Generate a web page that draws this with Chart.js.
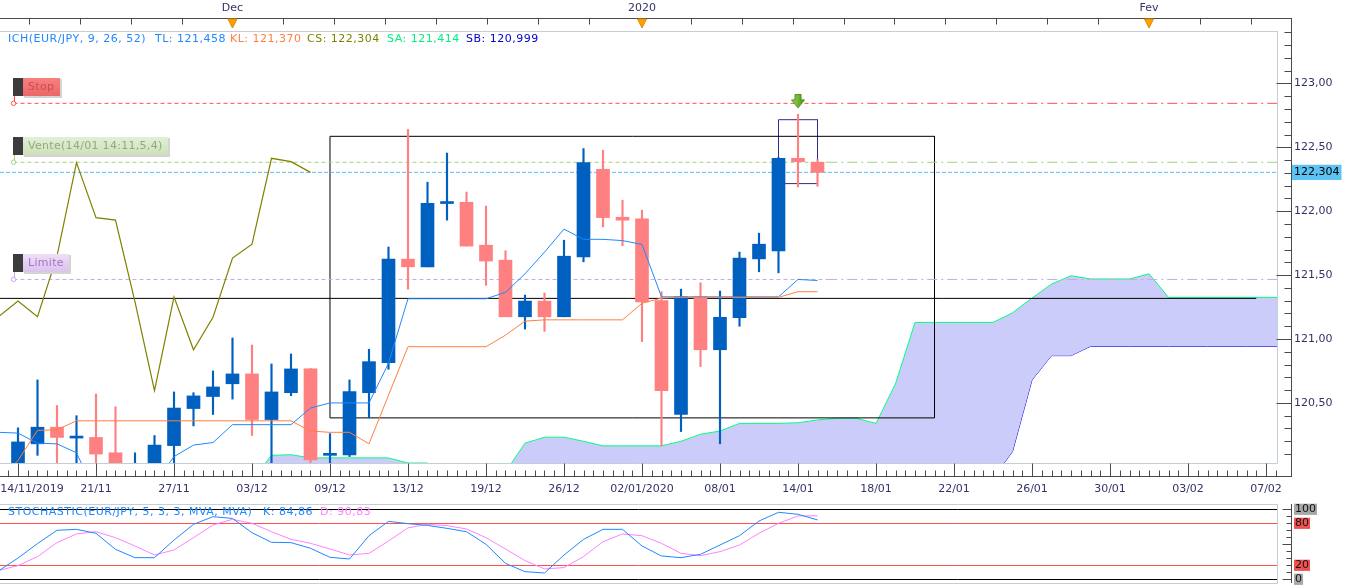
<!DOCTYPE html>
<html>
<head>
<meta charset="utf-8">
<title>EUR/JPY Ichimoku</title>
<script src="https://cdn.jsdelivr.net/npm/chart.js@4.4.1/dist/chart.umd.min.js"></script>
<style>
  html, body { margin: 0; padding: 0; background: #fff; overflow: hidden; }
  #main { position: absolute; left: 0; top: 0; width: 1349px; height: 500px; }
  #stoch { position: absolute; left: 0; top: 500px; width: 1349px; height: 88px; }
</style>
</head>
<body>
<div id="main"><canvas id="priceChart"></canvas></div>
<div id="stoch"><canvas id="stochChart"></canvas></div>
<script>
// ---- data (x = candle index, 0 = 14/11/2019) ----
const tickLabels = ['14/11/2019', '21/11', '27/11', '03/12', '09/12', '13/12', '19/12', '26/12',
  '02/01/2020', '08/01', '14/01', '18/01', '22/01', '26/01', '30/01', '03/02', '07/02'];
const tickEvery = 4;
const monthNames = ['Dec', '2020', 'Fev'];
const monthAt = [11, 32, 58];
const priceTicks = [120.5, 121, 121.5, 122, 122.5, 123];

const opens  = [119.95, 120.18, 120.31, 120.225, 120.23, 120.11, 119.85, 119.98, 120.166, 120.456, 120.55, 120.65, 120.727, 120.37, 120.58, 120.766, 120.09, 120.094, 120.58, 120.815, 121.625, 121.565, 122.06, 122.07, 121.734, 121.617, 121.174, 121.297, 121.174, 121.643, 122.328, 121.953, 121.94, 121.30, 120.41, 121.33, 120.916, 121.167, 121.627, 121.69, 122.414, 122.383];
const highs  = [120.305, 120.68, 120.48, 120.40, 120.57, 120.47, 120.11, 120.245, 120.586, 120.58, 120.75, 121.008, 120.953, 120.805, 120.883, 120.77, 120.26, 120.68, 120.92, 121.72, 122.64, 122.227, 122.455, 122.15, 122.04, 121.69, 121.344, 121.36, 121.773, 122.49, 122.477, 122.086, 122.008, 121.37, 121.39, 121.44, 121.375, 121.68, 121.828, 122.42, 122.758, 122.404];
const lows   = [119.90, 120.09, 119.98, 119.97, 119.96, 119.90, 119.80, 119.95, 119.98, 120.32, 120.41, 120.53, 120.245, 119.98, 120.557, 120.02, 119.98, 120.08, 120.383, 120.763, 121.39, 121.565, 121.93, 121.727, 121.42, 121.174, 121.078, 121.06, 121.174, 121.604, 121.877, 121.73, 120.98, 120.164, 120.276, 120.784, 120.18, 121.10, 121.526, 121.518, 122.19, 122.195];
const closes = [120.195, 120.31, 120.23, 120.235, 120.10, 119.98, 119.95, 120.17, 120.46, 120.555, 120.625, 120.727, 120.37, 120.586, 120.766, 120.055, 120.10, 120.588, 120.823, 121.625, 121.565, 122.0625, 122.07, 121.727, 121.61, 121.174, 121.297, 121.174, 121.648, 122.38, 121.95, 121.93, 121.29, 120.596, 121.33, 120.916, 121.17, 121.633, 121.742, 122.414, 122.388, 122.304];

const lineX0 = -1; // tenkan, kijun, chikou, stochastic start one candle left of 14/11
const tenkan = [120.27, 120.264, 120.185, 120.18, 120.11, 119.78, 119.70, 119.70, 119.87, 120.08, 120.17, 120.19, 120.33, 120.33, 120.33, 120.33, 120.46, 120.50, 120.50, 120.50, 120.81, 121.315, 121.315, 121.315, 121.315, 121.315, 121.365, 121.51, 121.68, 121.86, 121.78, 121.78, 121.77, 121.74, 121.33, 121.33, 121.33, 121.33, 121.33, 121.33, 121.33, 121.466, 121.458];
const kijun  = [119.89, 120.05, 120.285, 120.29, 120.36, 120.36, 120.36, 120.36, 120.36, 120.36, 120.36, 120.36, 120.36, 120.36, 120.36, 120.36, 120.28, 120.27, 120.27, 120.18, 120.56, 120.94, 120.94, 120.94, 120.94, 120.94, 121.03, 121.14, 121.15, 121.15, 121.15, 121.15, 121.15, 121.28, 121.32, 121.326, 121.326, 121.326, 121.326, 121.326, 121.326, 121.37, 121.37];
const chikou = [121.174, 121.297, 121.174, 121.648, 122.38, 121.95, 121.93, 121.29, 120.596, 121.33, 120.916, 121.17, 121.633, 121.742, 122.414, 122.388, 122.304];

const cloudX0 = 12;
const senkouA = [119.90, 120.09, 120.095, 120.07, 120.07, 120.07, 120.07, 120.07, 120.03, 120.03, 119.85, 119.80, 119.85, 119.96, 120.185, 120.232, 120.232, 120.20, 120.164, 120.164, 120.164, 120.164, 120.20, 120.255, 120.28, 120.34, 120.34, 120.34, 120.345, 120.367, 120.38, 120.38, 120.34, 120.65, 121.13, 121.13, 121.13, 121.13, 121.13, 121.205, 121.32, 121.43, 121.495, 121.47, 121.47, 121.47, 121.51, 121.326, 121.326, 121.326, 121.326, 121.326, 121.326, 121.326];
const senkouB = [119.58, 119.58, 119.58, 119.58, 119.58, 119.58, 119.58, 119.58, 119.58, 119.58, 119.60, 119.60, 119.60, 119.60, 119.60, 119.60, 119.60, 119.60, 119.60, 119.60, 119.62, 119.62, 119.62, 119.62, 119.62, 119.62, 119.62, 119.62, 119.62, 119.62, 119.66, 119.66, 119.66, 119.66, 119.70, 119.70, 119.75, 119.80, 119.91, 120.12, 120.68, 120.87, 120.87, 120.943, 120.943, 120.943, 120.943, 120.943, 120.943, 120.943, 120.943, 120.943, 120.943, 120.943];
const legendSA = 121.414, legendSB = 120.999;

const stochK = [11.9, 30.4, 51, 70, 71.4, 65.7, 42.8, 30.9, 30.9, 56, 78.5, 89.5, 87, 66.6, 52.8, 52.4, 44.3, 31.4, 29, 62.3, 82.8, 79.5, 77, 72.8, 68, 50, 22.8, 10.9, 9, 34.7, 57, 71.4, 71.4, 47.6, 33.3, 30.9, 35.7, 49, 62.3, 83.3, 95.7, 92.9, 84.86];
const stochD = [12.5, 19.5, 32.4, 52.4, 64.8, 68, 59.5, 47.6, 34.7, 41.9, 59.5, 77.6, 85.7, 80, 68, 57.1, 51.4, 43.3, 34.7, 37.1, 54.7, 73.5, 78.5, 76.7, 71.9, 59.5, 43.3, 26.7, 14.8, 16.7, 32.4, 53.8, 64.8, 62.3, 51.4, 37.1, 33.8, 39.5, 49, 65.7, 80, 90.5, 90.83];
const stochLevels = [0, 20, 80, 100];

// order levels and drawings
const levelNames  = ['Stop', 'Vente(14/01 14:11,5,4)', 'Limite'];
const levelValues = [122.844, 122.383, 121.466];
const levelFromX = -0.23, futureFromX = 41.5;
const hLineValue = 121.318, hLineToX = 63.5;
const rectX = [16, 47], rectY = [120.383, 122.586];
const orderBoxX = [39, 41], orderBoxY = [122.216, 122.716];
const signalX = [40], signalY = [122.86];

// ---- helpers / styles ----
const xMin = -0.923, xMax = 64.564;
const fmt = (v, d) => v.toFixed(d).replace('.', ',');
const seq = (x0, arr) => arr.map((y, i) => ({ x: x0 + i, y }));
const lastClose = closes[closes.length - 1];
const upColor = '#0060C0', downColor = '#FF8080';
const candleColors = closes.map((c, i) => (c >= opens[i] ? upColor : downColor));
const levelStyles = [
  { line: '#FF5050', top: '#F68080', bottom: '#EC6767', text: '#D04A52' },
  { line: '#A2CE82', top: '#E2EFD6', bottom: '#CDE1BA', text: '#93A97A' },
  { line: '#C9A9E2', top: '#EEDFF7', bottom: '#D9C3EB', text: '#A673C8' }
];
Chart.defaults.font.family = '"DejaVu Sans", Verdana, sans-serif';
Chart.defaults.font.size = 11;

function strokeLine(ctx, x1, y1, x2, y2) {
  ctx.beginPath(); ctx.moveTo(x1, y1); ctx.lineTo(x2, y2); ctx.stroke();
}
const crisp = v => Math.round(v) + 0.5;

// green "sell" arrow used as point style
const arrowImg = document.createElement('canvas');
arrowImg.width = 14; arrowImg.height = 15;
(() => {
  const a = arrowImg.getContext('2d');
  const g = a.createLinearGradient(0, 0, 14, 0);
  g.addColorStop(0, '#A6DC52'); g.addColorStop(1, '#3F8F14');
  a.fillStyle = g;
  a.beginPath();
  a.moveTo(4, 0.5); a.lineTo(10, 0.5); a.lineTo(10, 6); a.lineTo(13.5, 6);
  a.lineTo(7, 14); a.lineTo(0.5, 6); a.lineTo(4, 6); a.closePath();
  a.fill();
  a.strokeStyle = '#4A8A1C'; a.lineWidth = 1; a.stroke();
})();

// ---- datasets ----
const datasets = [];
// cloud (senkou A filled down to senkou B)
datasets.push({
  type: 'line', label: 'SA', data: seq(cloudX0, senkouA), borderColor: '#00FF80', borderWidth: 1,
  pointRadius: 0, fill: '+1', backgroundColor: '#CCCCFA', order: 9, clip: 0
});
datasets.push({
  type: 'line', label: 'SB', data: seq(cloudX0, senkouB), borderColor: '#0000E0', borderWidth: 1,
  pointRadius: 0, fill: false, order: 9, clip: 0
});
// order levels
levelValues.forEach((v, k) => {
  datasets.push({
    type: 'line', data: [{ x: levelFromX, y: v }, { x: futureFromX, y: v }, { x: xMax, y: v }],
    borderColor: levelStyles[k].line, borderWidth: 1, pointRadius: [2.2, 0, 0],
    pointBackgroundColor: '#fff', pointBorderColor: levelStyles[k].line, pointBorderWidth: 1,
    segment: { borderDash: c => (c.p0DataIndex >= 1 ? [10, 4, 2, 4] : [4, 3]) },
    order: 7, clip: 0
  });
});
// current price line
datasets.push({
  type: 'line', data: [{ x: xMin, y: lastClose }, { x: xMax, y: lastClose }],
  borderColor: '#55BEF0', borderWidth: 1, borderDash: [4, 2], pointRadius: 0, order: 7, clip: 0
});
// horizontal line and drawn boxes
datasets.push({
  type: 'line', data: [{ x: xMin, y: hLineValue }, { x: hLineToX, y: hLineValue }],
  borderColor: '#000', borderWidth: 1, pointRadius: 0, order: 7, clip: 0
});
datasets.push({
  type: 'line', borderColor: '#000', borderWidth: 1, pointRadius: 0, order: 7, clip: 0,
  data: [{ x: rectX[0], y: rectY[1] }, { x: rectX[1], y: rectY[1] }, { x: rectX[1], y: rectY[0] },
         { x: rectX[0], y: rectY[0] }, { x: rectX[0], y: rectY[1] }]
});
datasets.push({
  type: 'line', borderColor: '#2E2E88', borderWidth: 1, pointRadius: 0, order: 7, clip: 0,
  data: [{ x: orderBoxX[0], y: orderBoxY[1] }, { x: orderBoxX[1], y: orderBoxY[1] }, { x: orderBoxX[1], y: orderBoxY[0] },
         { x: orderBoxX[0], y: orderBoxY[0] }, { x: orderBoxX[0], y: orderBoxY[1] }]
});
// candles: wicks then bodies
datasets.push({
  type: 'bar', data: lows.map((l, i) => ({ x: i, y: [l, highs[i]] })), backgroundColor: candleColors,
  barThickness: 1.5, grouped: false, borderWidth: 0, order: 5, clip: 0
});
datasets.push({
  type: 'bar', data: opens.map((o, i) => ({ x: i, y: [o, closes[i]] })), backgroundColor: candleColors,
  barThickness: 13, minBarLength: 2, grouped: false, borderWidth: 0, borderSkipped: false, order: 4, clip: 0
});
// ichimoku lines
datasets.push({ type: 'line', data: seq(lineX0, kijun), borderColor: '#FF7F40', borderWidth: 1, pointRadius: 0, order: 2, clip: 0 });
datasets.push({ type: 'line', data: seq(lineX0, tenkan), borderColor: '#1E88FF', borderWidth: 1, pointRadius: 0, order: 2, clip: 0 });
datasets.push({ type: 'line', data: seq(lineX0, chikou), borderColor: '#808000', borderWidth: 1.2, pointRadius: 0, order: 2, clip: 0 });
// signal arrow
datasets.push({
  type: 'line', data: signalX.map((x, i) => ({ x, y: signalY[i] })), showLine: false,
  pointStyle: arrowImg, pointRadius: 7, order: 1, clip: 0
});

// ---- decoration plugin for the price panel ----
const priceDecor = {
  id: 'priceDecor',
  afterDatasetsDraw(chart) {
    const { ctx, scales: { x, y } } = chart;
    ctx.save();
    ctx.font = '11px "DejaVu Sans"';
    ctx.letterSpacing = '0.3px';
    ctx.textBaseline = 'middle';
    levelNames.forEach((name, k) => {
      const st = levelStyles[k];
      const ly = Math.round(y.getPixelForValue(levelValues[k]));
      const bx = Math.round(x.getPixelForValue(levelFromX)) - 1;
      const top = ly - 25, h = 18;
      const w = Math.ceil(ctx.measureText(name).width) + 10;
      ctx.fillStyle = '#D4D4D4';
      ctx.fillRect(bx + 11, top + 1, w + 1, h + 1);
      const g = ctx.createLinearGradient(0, top, 0, top + h);
      g.addColorStop(0, st.top); g.addColorStop(1, st.bottom);
      ctx.fillStyle = g;
      ctx.fillRect(bx + 10, top, w, h);
      ctx.fillStyle = '#3C3C3C';
      ctx.fillRect(bx, top, 10, h);
      ctx.fillStyle = st.text;
      ctx.fillText(name, bx + 15, top + h / 2 + 0.5);
      ctx.strokeStyle = st.line; ctx.lineWidth = 1;
      strokeLine(ctx, bx + 1.5, top + h, bx + 1.5, ly - 2);
    });
    ctx.restore();
  },
  afterDraw(chart) {
    const { ctx, chartArea: ca, scales: { x, y } } = chart;
    const axR = ca.right + 14.5, topBase = ca.top - 12.5, botBase = ca.bottom + 13.5;
    ctx.save();
    ctx.lineWidth = 1;
    // plot frame
    ctx.strokeStyle = '#C3CED9';
    strokeLine(ctx, ca.left, ca.top + 0.5, ca.right + 0.5, ca.top + 0.5);
    strokeLine(ctx, ca.right + 0.5, ca.top, ca.right + 0.5, ca.bottom + 0.5);
    strokeLine(ctx, ca.left, ca.bottom + 0.5, ca.right + 0.5, ca.bottom + 0.5);
    // axis lines
    ctx.strokeStyle = '#4A4A4A';
    strokeLine(ctx, 0, topBase, axR + 0.5, topBase);
    strokeLine(ctx, 0, botBase, axR + 0.5, botBase);
    strokeLine(ctx, axR, topBase, axR, botBase);
    // price ticks
    for (let k = Math.ceil(y.min * 10); k <= Math.floor(y.max * 10); k++) {
      const py = crisp(y.getPixelForValue(k / 10));
      strokeLine(ctx, axR - (k % 5 === 0 ? 15 : 7), py, axR, py);
    }
    // date ticks (every half candle, major at labels)
    for (let k = Math.ceil(xMin * 2); k <= Math.floor(xMax * 2); k++) {
      const px = crisp(x.getPixelForValue(k / 2));
      const major = k >= 0 && k % (tickEvery * 2) === 0;
      strokeLine(ctx, px, botBase - (major ? 13 : 6), px, botBase);
    }
    // top axis ticks
    const topStep = (monthAt[2] - monthAt[0]) / 18;
    for (let j = -5; j < 30; j++) {
      const v = monthAt[0] + j * topStep;
      if (v < xMin || v > xMax) continue;
      const px = crisp(x.getPixelForValue(v));
      strokeLine(ctx, px, topBase, px, topBase + 6);
    }
    // month markers
    monthAt.forEach(m => {
      const px = x.getPixelForValue(m);
      ctx.fillStyle = '#FFA000'; ctx.strokeStyle = '#E08A00';
      ctx.beginPath();
      ctx.moveTo(px - 4.5, topBase + 0.5); ctx.lineTo(px + 4.5, topBase + 0.5); ctx.lineTo(px, topBase + 9.5);
      ctx.closePath(); ctx.fill(); ctx.stroke();
    });
    // indicator legend
    ctx.font = '11px "DejaVu Sans"';
    ctx.letterSpacing = '0.5px';
    ctx.textBaseline = 'middle';
    const legend = [
      ['ICH(EUR/JPY, 9, 26, 52)', '#1E88FF', 8],
      ['TL: ' + fmt(tenkan[tenkan.length - 1], 3), '#1E88FF', 155],
      ['KL: ' + fmt(kijun[kijun.length - 1], 3), '#FF7F40', 230],
      ['CS: ' + fmt(lastClose, 3), '#808000', 307],
      ['SA: ' + fmt(legendSA, 3), '#00F080', 387],
      ['SB: ' + fmt(legendSB, 3), '#0000CD', 466]
    ];
    legend.forEach(([t, c, lx]) => { ctx.fillStyle = c; ctx.fillText(t, lx, ca.top + 8.5); });
    ctx.restore();
  }
};

new Chart(document.getElementById('priceChart'), {
  type: 'bar',
  data: { datasets },
  options: {
    responsive: true, maintainAspectRatio: false, animation: false, events: [],
    layout: { padding: 0, autoPadding: false },
    plugins: { legend: { display: false }, tooltip: { enabled: false } },
    scales: {
      x: {
        type: 'linear', position: 'bottom', min: xMin, max: xMax, offset: false,
        grid: { display: false, drawTicks: false }, border: { display: false },
        afterBuildTicks: s => { s.ticks = tickLabels.map((_, k) => ({ value: k * tickEvery })); },
        afterFit: s => { s.height = 37; s.paddingLeft = 0; s.paddingRight = 0; },
        ticks: {
          autoSkip: false, maxRotation: 0, minRotation: 0, padding: 20, color: '#333366',
          callback: v => {
            const k = Math.round(v / tickEvery);
            return k === 0 ? ' '.repeat(8) + tickLabels[0] : tickLabels[k];
          }
        }
      },
      xTop: {
        type: 'linear', position: 'top', min: xMin, max: xMax, offset: false,
        grid: { display: false, drawTicks: false }, border: { display: false },
        afterBuildTicks: s => { s.ticks = monthAt.map(v => ({ value: v })); },
        afterFit: s => { s.height = 31; s.paddingLeft = 0; s.paddingRight = 0; },
        ticks: { autoSkip: false, maxRotation: 0, padding: 16, color: '#333366', callback: (v, i) => monthNames[i] }
      },
      y: {
        type: 'linear', position: 'right', min: 120.03, max: 123.41, beginAtZero: false,
        grid: { display: false, drawTicks: false }, border: { display: false },
        afterBuildTicks: s => {
          s.ticks = priceTicks.concat([lastClose]).sort((a, b) => a - b).map(v => ({ value: v }));
        },
        afterFit: s => { s.width = 72; s.paddingTop = 0; s.paddingBottom = 0; },
        ticks: {
          autoSkip: false, padding: 17,
          color: c => (c.tick.value === lastClose ? '#000' : '#333366'),
          callback: v => (v === lastClose ? fmt(v, 3) : fmt(v, 2)),
          showLabelBackdrop: true,
          backdropColor: c => (c.tick.value === lastClose ? '#5CC3F4' : 'rgba(0,0,0,0)'),
          backdropPadding: { top: 1, bottom: 1, left: 2, right: 2 }
        }
      }
    }
  },
  plugins: [priceDecor]
});

// ---- stochastic panel ----
const stochDecor = {
  id: 'stochDecor',
  afterDraw(chart) {
    const { ctx, chartArea: ca, scales: { y } } = chart;
    const axR = ca.right + 14.5;
    ctx.save();
    ctx.lineWidth = 1;
    ctx.strokeStyle = '#C3CED9';
    strokeLine(ctx, 0, ca.top + 0.5, ca.right + 0.5, ca.top + 0.5);
    strokeLine(ctx, ca.right + 0.5, ca.top, ca.right + 0.5, ca.bottom + 0.5);
    strokeLine(ctx, 0, ca.bottom + 0.5, ca.right + 0.5, ca.bottom + 0.5);
    ctx.strokeStyle = '#4A4A4A';
    strokeLine(ctx, axR, ca.top, axR, ca.bottom);
    for (let v = 0; v <= 100; v += 10) {
      const py = crisp(y.getPixelForValue(v));
      strokeLine(ctx, axR - (v % 50 === 0 ? 9 : 5), py, axR, py);
    }
    ctx.font = '11px "DejaVu Sans"';
    ctx.letterSpacing = '0.5px';
    ctx.textBaseline = 'middle';
    const legend = [
      ['STOCHASTIC(EUR/JPY, 5, 3, 3, MVA, MVA)', '#1E88FF', 8],
      ['K: ' + fmt(stochK[stochK.length - 1], 2), '#1E88FF', 263],
      ['D: ' + fmt(stochD[stochD.length - 1], 2), '#FF80FF', 320]
    ];
    legend.forEach(([t, c, lx]) => { ctx.fillStyle = c; ctx.fillText(t, lx, ca.top + 8); });
    ctx.restore();
  }
};

new Chart(document.getElementById('stochChart'), {
  type: 'line',
  data: {
    datasets: [
      { data: seq(lineX0, stochK), borderColor: '#1E88FF', borderWidth: 1, pointRadius: 0, order: 1 },
      { data: seq(lineX0, stochD), borderColor: '#FF80FF', borderWidth: 1, pointRadius: 0, order: 2 }
    ]
  },
  options: {
    responsive: true, maintainAspectRatio: false, animation: false, events: [],
    layout: { padding: { top: 4, bottom: 5, left: 0, right: 0 }, autoPadding: false },
    plugins: { legend: { display: false }, tooltip: { enabled: false } },
    scales: {
      x: { type: 'linear', min: xMin, max: xMax, display: false },
      y: {
        type: 'linear', position: 'right', min: -5.3, max: 107.6,
        border: { display: false },
        grid: { drawTicks: false, color: c => (c.tick.value === 0 || c.tick.value === 100 ? '#000' : '#FF5050') },
        afterBuildTicks: s => { s.ticks = stochLevels.map(v => ({ value: v })); },
        afterFit: s => { s.width = 72; s.paddingTop = 0; s.paddingBottom = 0; },
        ticks: {
          autoSkip: false, padding: 18, color: '#111',
          showLabelBackdrop: true,
          backdropColor: c => (c.tick.value === 0 || c.tick.value === 100 ? '#A8A8A8' : '#F05050'),
          backdropPadding: { top: -1, bottom: -1, left: 1, right: 1 }
        }
      }
    }
  },
  plugins: [stochDecor]
});
</script>
</body>
</html>
